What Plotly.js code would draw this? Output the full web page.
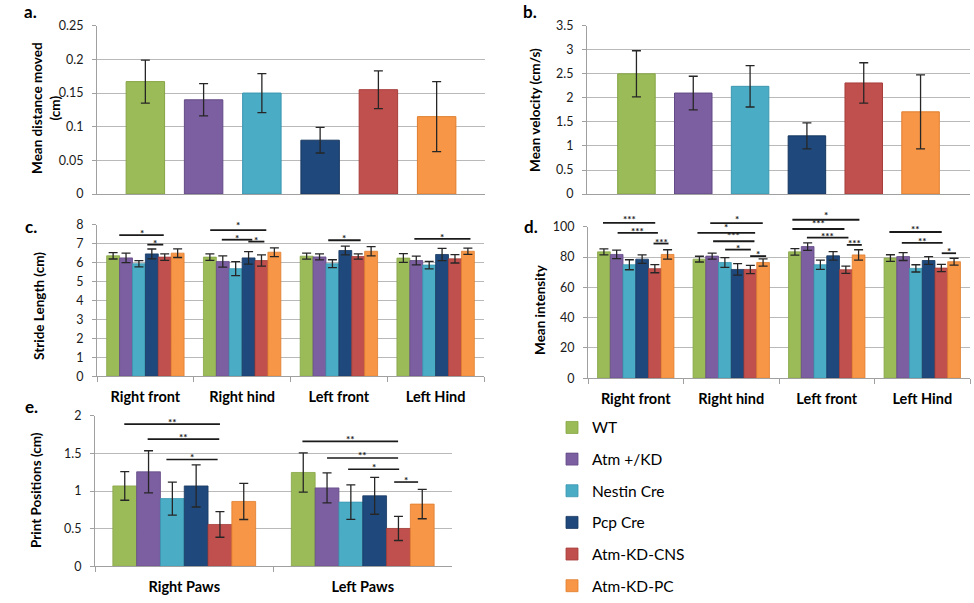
<!DOCTYPE html>
<html>
<head>
<meta charset="utf-8">
<script src="https://cdn.plot.ly/plotly-3.0.1.min.js"></script>
<style>html,body{margin:0;padding:0;background:#fff;}#chart{width:974px;height:603px;}</style>
</head>
<body>
<div id="chart"></div>
<script>
// ---------- data ----------
const seriesNames = ['WT', 'Atm +/KD', 'Nestin Cre', 'Pcp Cre', 'Atm-KD-CNS', 'Atm-KD-PC'];
const pawCategories = ['Right front', 'Right hind', 'Left front', 'Left Hind'];
const sideCategories = ['Right Paws', 'Left Paws'];

// a. mean distance moved (cm)
const distanceMean = [0.167, 0.140, 0.150, 0.080, 0.155, 0.115];
const distanceErr  = [0.032, 0.024, 0.029, 0.019, 0.028, 0.052];

// b. mean velocity (cm/s)
const velocityMean = [2.50, 2.10, 2.24, 1.21, 2.31, 1.71];
const velocityErr  = [0.48, 0.35, 0.43, 0.27, 0.42, 0.77];

// c. stride length (cm) : one row per series, columns = pawCategories
const strideMean = [
  [6.36, 6.29, 6.34, 6.24],
  [6.25, 6.06, 6.30, 6.11],
  [5.94, 5.68, 5.94, 5.87],
  [6.46, 6.25, 6.64, 6.43],
  [6.29, 6.11, 6.32, 6.20],
  [6.50, 6.55, 6.60, 6.60]
];
const strideErr = [
  [0.17, 0.17, 0.16, 0.23],
  [0.25, 0.30, 0.16, 0.23],
  [0.17, 0.37, 0.21, 0.20],
  [0.26, 0.33, 0.23, 0.32],
  [0.17, 0.30, 0.14, 0.22],
  [0.23, 0.23, 0.24, 0.17]
];

// d. mean intensity
const intensityMean = [
  [83.4, 78.6, 83.4, 79.3],
  [81.7, 80.6, 86.9, 80.3],
  [74.9, 76.4, 74.9, 72.5],
  [78.6, 71.8, 80.8, 77.7],
  [72.3, 71.8, 71.6, 72.7],
  [81.7, 76.4, 81.4, 76.9]
];
const intensityErr = [
  [2.0, 1.9, 2.1, 2.2],
  [2.8, 2.0, 2.5, 2.6],
  [3.3, 3.2, 3.0, 2.4],
  [2.8, 3.8, 2.8, 2.5],
  [2.7, 2.7, 2.4, 2.4],
  [3.1, 2.4, 3.4, 2.3]
];

// e. print positions (cm)
const printMean = [
  [1.068, 1.247],
  [1.256, 1.042],
  [0.900, 0.853],
  [1.068, 0.937],
  [0.556, 0.503],
  [0.862, 0.827]
];
const printErr = [
  [0.19, 0.26],
  [0.28, 0.20],
  [0.22, 0.23],
  [0.28, 0.245],
  [0.17, 0.16],
  [0.24, 0.195]
];

// significance brackets: [category index, start, end (within category), value, label]
const sigStride = [
  [0, -0.27, 0.19, 7.45, '*'],
  [0, 0.02, 0.185, 6.95, '*'],
  [1, -0.33, 0.25, 7.72, '*'],
  [1, -0.21, 0.105, 7.21, '*'],
  [1, 0.064, 0.23, 7.11, '*'],
  [2, -0.11, 0.225, 7.18, '*'],
  [3, -0.22, 0.36, 7.25, '*']
];
const sigIntensity = [
  [0, -0.343, 0.204, 102.6, '***'],
  [0, -0.19, 0.232, 95.9, '***'],
  [0, 0.186, 0.343, 88.9, '***'],
  [1, -0.22, 0.33, 102.4, '*'],
  [1, -0.354, 0.25, 95.9, '*'],
  [1, -0.19, 0.243, 90.4, '***'],
  [1, -0.064, 0.205, 84.9, '*'],
  [1, 0.198, 0.365, 80.6, '*'],
  [2, -0.36, 0.342, 104.6, '*'],
  [2, -0.36, 0.185, 98.5, '***'],
  [2, -0.208, 0.227, 92.8, '***'],
  [2, 0.21, 0.367, 88.0, '***'],
  [3, -0.344, 0.204, 96.5, '**'],
  [3, -0.214, 0.214, 89.3, '**'],
  [3, 0.204, 0.354, 82.5, '*']
];
const sigPrint = [
  [0, -0.336, 0.2, 1.89, '**'],
  [0, -0.205, 0.196, 1.69, '**'],
  [0, -0.1, 0.187, 1.42, '*'],
  [1, -0.338, 0.198, 1.66, '**'],
  [1, -0.2, 0.198, 1.44, '**'],
  [1, -0.082, 0.204, 1.29, '*'],
  [1, 0.176, 0.31, 1.12, '*']
];

// ---------- styles ----------
const fillColors = ['#9BBB59', '#7C5FA0', '#4BACC6', '#1F497D', '#C0504D', '#F79646'];
const edgeColors = ['#86A445', '#634A86', '#3A97B0', '#17375F', '#A63D3A', '#E07E2E'];
const FONT = 'Lato, "Open Sans", sans-serif';
const GRID = '#b9b9b9';
const AXLINE = '#a0a0a0';
const ERRC = '#262626';
const STAR_SIZE = 10;

const yRanges = {y: [0, 0.25], y2: [0, 3.5], y3: [0, 8], y4: [0, 100], y5: [0, 2]};

const traces = [];

function singleBars(means, errs, xa, ya) {
  means.forEach((v, i) => {
    traces.push({
      type: 'bar', x: [seriesNames[i]], y: [v], name: seriesNames[i],
      legendgroup: seriesNames[i], showlegend: false,
      xaxis: xa, yaxis: ya, width: 0.66, offset: -0.33,
      marker: {color: fillColors[i], line: {color: edgeColors[i], width: 1}},
      error_y: {type: 'data', array: [errs[i]], visible: true, color: ERRC, thickness: 1.3, width: 4.5},
      hoverinfo: 'y'
    });
  });
}

function groupedBars(cats, means, errs, xa, ya, legend, capw) {
  means.forEach((row, i) => {
    traces.push({
      type: 'bar', x: cats, y: row, name: seriesNames[i],
      legendgroup: seriesNames[i], showlegend: legend,
      xaxis: xa, yaxis: ya,
      marker: {color: fillColors[i], line: {color: edgeColors[i], width: 0.8}},
      error_y: {type: 'data', array: errs[i], visible: true, color: ERRC, thickness: 1.3, width: capw},
      hoverinfo: 'y'
    });
  });
}

singleBars(distanceMean, distanceErr, 'x', 'y');
singleBars(velocityMean, velocityErr, 'x2', 'y2');
groupedBars(pawCategories, strideMean, strideErr, 'x3', 'y3', true, 4.5);
groupedBars(pawCategories, intensityMean, intensityErr, 'x4', 'y4', false, 4.5);
groupedBars(sideCategories, printMean, printErr, 'x5', 'y5', false, 4.5);

// ---------- significance brackets ----------
const shapes = [];
const annotations = [];
function addSig(list, xa, ya, lw, pxPerUnit) {
  const r = yRanges[ya];
  const placed = [];
  list.forEach(s => {
    const yd = (s[3] - r[0]) / (r[1] - r[0]);
    const xc = s[0] + (s[1] + s[2]) / 2;
    shapes.push({
      type: 'line', xref: xa, yref: ya + ' domain',
      x0: s[0] + s[1], x1: s[0] + s[2], y0: yd, y1: yd,
      line: {color: '#1a1a1a', width: lw}
    });
    // lift a star label a little when it would collide with the label of a bracket just below it
    let lift = 2;
    list.forEach(o => {
      if (o === s || o[0] !== s[0]) return;
      const oc = o[0] + (o[1] + o[2]) / 2;
      const dy = (s[3] - o[3]) * pxPerUnit;
      if (dy > 0 && dy < 12 && Math.abs(oc - xc) < 0.12) lift = Math.max(lift, 2 + (12.5 - dy));
    });
    annotations.push({
      xref: xa, yref: ya + ' domain', x: xc, y: yd,
      text: s[4], showarrow: false, yanchor: 'middle', yshift: lift, borderpad: 0,
      font: {family: FONT, size: STAR_SIZE, color: '#1a1a1a', weight: 700}
    });
  });
}
addSig(sigStride, 'x3', 'y3', 1.8, 153 / 8);
addSig(sigIntensity, 'x4', 'y4', 1.8, 153 / 100);
addSig(sigPrint, 'x5', 'y5', 1.6, 152 / 2);

// ---------- panel letters and y titles ----------
const W = 974, H = 603;
function px(x) { return x / W; }
function py(y) { return 1 - y / H; }
[['a.', 30, 12], ['b.', 530, 12], ['c.', 31, 229], ['d.', 531, 229], ['e.', 31, 411]].forEach(p => {
  annotations.push({xref: 'paper', yref: 'paper', x: px(p[1]), y: py(p[2]), text: p[0], showarrow: false,
    xanchor: 'center', yanchor: 'middle', font: {family: FONT, size: 17, color: '#000', weight: 700}});
});
[['Mean distance moved<br>(cm)', 46, 109], ['Mean velocity (cm/s)', 535, 111], ['Stride Length (cm)', 39, 309],
 ['Mean intensity', 540, 313], ['Print Positions (cm)', 36, 495]].forEach(t => {
  annotations.push({xref: 'paper', yref: 'paper', x: px(t[1]), y: py(t[2]), text: t[0], showarrow: false,
    textangle: -90, xanchor: 'center', yanchor: 'middle',
    font: {family: FONT, size: 13.5, color: '#000', weight: 700}});
});

// ---------- axes ----------
function yAxis(range, dtick, domain, anchor) {
  return {
    domain: domain, anchor: anchor, range: range, dtick: dtick, fixedrange: true,
    showgrid: true, gridcolor: GRID, gridwidth: 1, zeroline: false,
    showline: true, linecolor: AXLINE, linewidth: 1,
    ticks: 'outside', ticklen: 4, tickcolor: AXLINE, ticklabelstandoff: 6,
    tickfont: {family: FONT, size: 12.5, color: '#1a1a1a'}
  };
}
function xAxisPlain(domain, anchor, range) {
  return {domain: domain, anchor: anchor, type: 'category', range: range, fixedrange: true,
    showgrid: false, zeroline: false, showline: true, linecolor: AXLINE, linewidth: 1,
    showticklabels: false, ticks: ''};
}
function xAxisCat(domain, anchor) {
  return {domain: domain, anchor: anchor, type: 'category', fixedrange: true,
    showgrid: false, zeroline: false, showline: true, linecolor: AXLINE, linewidth: 1,
    ticks: 'outside', tickson: 'boundaries', ticklen: 5, tickcolor: AXLINE, ticklabelstandoff: 7,
    tickfont: {family: FONT, size: 14.5, color: '#000', weight: 700}};
}

const layout = {
  width: W, height: H,
  margin: {l: 0, r: 0, t: 0, b: 0},
  paper_bgcolor: '#fff', plot_bgcolor: '#fff',
  font: {family: FONT, color: '#000'},
  barmode: 'group', bargap: 0.2, bargroupgap: 0,
  showlegend: true,
  legend: {x: px(552), y: py(415), xanchor: 'left', yanchor: 'top', tracegroupgap: 8.5,
    font: {family: FONT, size: 15.5, color: '#000'}, bgcolor: 'rgba(0,0,0,0)', borderwidth: 0},
  xaxis:  xAxisPlain([px(97), px(485)], 'y', [-0.83, 5.83]),
  yaxis:  yAxis(yRanges.y, 0.05, [py(196), py(26)], 'x'),
  xaxis2: xAxisPlain([px(587), px(970)], 'y2', [-0.87, 5.87]),
  yaxis2: yAxis(yRanges.y2, 0.5, [py(196), py(26)], 'x2'),
  xaxis3: xAxisCat([px(97), px(484)], 'y3'),
  yaxis3: yAxis(yRanges.y3, 1, [py(380), py(227)], 'x3'),
  xaxis4: xAxisCat([px(588), px(970)], 'y4'),
  yaxis4: yAxis(yRanges.y4, 20, [py(382), py(229)], 'x4'),
  xaxis5: xAxisCat([px(95), px(452)], 'y5'),
  yaxis5: yAxis(yRanges.y5, 0.5, [py(572), py(420)], 'x5'),
  shapes: shapes,
  annotations: annotations
};

Plotly.newPlot('chart', traces, layout, {displayModeBar: false, staticPlot: true});
</script>
</body>
</html>
